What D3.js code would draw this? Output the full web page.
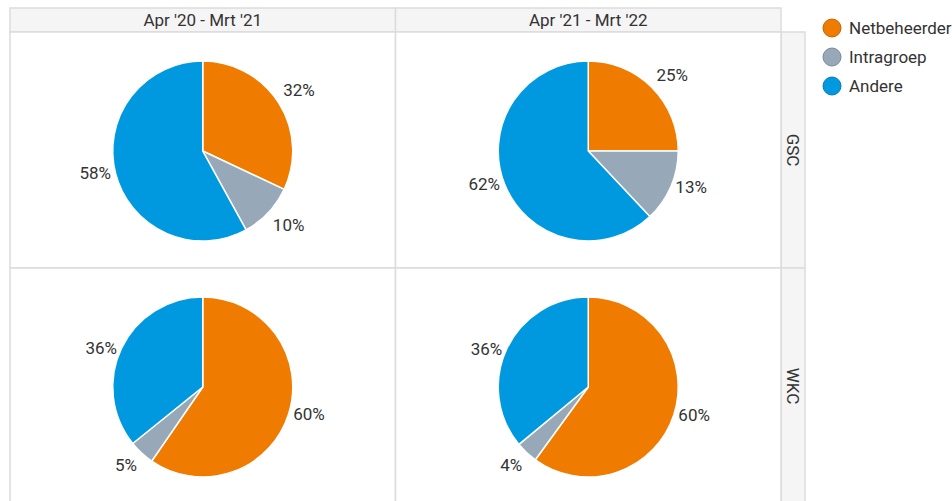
<!DOCTYPE html>
<html>
<head>
<meta charset="utf-8">
<script src="https://cdn.jsdelivr.net/npm/d3@7"></script>
<style>
  html, body { margin: 0; padding: 0; background: #fff; }
  svg { display: block; font-family: Roboto, "Noto Sans", sans-serif; }
</style>
</head>
<body>
<svg id="chart" width="952" height="501"></svg>
<script>
const categories = ["Netbeheerder", "Intragroep", "Andere"];
const columns = ["Apr '20 - Mrt '21", "Apr '21 - Mrt '22"];
const rows = ["GSC", "WKC"];
// values per panel [row][col], order = categories
const gsc2021 = [32, 10, 58];
const gsc2122 = [25, 13, 62];
const wkc2021 = [59.6, 4.6, 35.8];
const wkc2122 = [60, 4, 36];
const panelValues = [[gsc2021, gsc2122], [wkc2021, wkc2122]];
const colors = ["#ef7b00", "#97a9b8", "#0099e0"];

(function () {
const svg = d3.select("#chart");
const mLeft = 10, mTop = 8, stripH = 24, stripW = 24;
const fs = 17;
const colX = d3.scaleBand().domain(columns).range([mLeft, 781]).padding(0);
const rowY = d3.scaleBand().domain(rows).range([mTop + stripH, mTop + stripH + 472]).padding(0);
const color = d3.scaleOrdinal().domain(categories).range(colors);
const border = "#dcdcdc";
const textColor = "#333";

// column header strips
columns.forEach(c => {
  svg.append("rect").attr("x", colX(c)).attr("y", mTop).attr("width", colX.bandwidth()).attr("height", stripH)
    .attr("fill", "#f5f5f5").attr("stroke", border).attr("stroke-width", 1.5);
  svg.append("text").attr("x", colX(c) + colX.bandwidth() / 2).attr("y", mTop + stripH / 2)
    .attr("text-anchor", "middle").attr("dominant-baseline", "central")
    .attr("font-size", fs).attr("fill", textColor).text(c);
});
// row strips
rows.forEach(r => {
  svg.append("rect").attr("x", 781).attr("y", rowY(r)).attr("width", stripW).attr("height", rowY.bandwidth())
    .attr("fill", "#f5f5f5").attr("stroke", border).attr("stroke-width", 1.5);
  const cx = 781 + stripW / 2, cy = rowY(r) + rowY.bandwidth() / 2;
  svg.append("text").attr("transform", `translate(${cx},${cy}) rotate(90)`)
    .attr("text-anchor", "middle").attr("dominant-baseline", "central")
    .attr("font-size", fs).attr("fill", textColor).text(r);
});

const pie = d3.pie().sort(null).value(d => d.v);
const radius = 90;
const arc = d3.arc().innerRadius(0).outerRadius(radius);
const edgeArc = d3.arc().innerRadius(radius).outerRadius(radius);

rows.forEach((r, ri) => {
  columns.forEach((c, ci) => {
    svg.append("rect").attr("x", colX(c)).attr("y", rowY(r)).attr("width", colX.bandwidth()).attr("height", rowY.bandwidth())
      .attr("fill", "#fff").attr("stroke", border).attr("stroke-width", 1.5);
    const data = categories.map((k, i) => ({ k, v: panelValues[ri][ci][i] }));
    const total = d3.sum(data, d => d.v);
    const g = svg.append("g")
      .attr("transform", `translate(${colX(c) + colX.bandwidth() / 2},${rowY(r) + rowY.bandwidth() / 2 + 1})`);
    const arcs = pie(data);
    g.selectAll("path").data(arcs).join("path")
      .attr("d", arc).attr("fill", d => color(d.data.k))
      .attr("stroke", "#fff").attr("stroke-width", 1.5);
    g.selectAll("text").data(arcs).join("text")
      .attr("text-anchor", "middle").attr("dominant-baseline", "central")
      .attr("font-size", fs).attr("fill", textColor)
      .text(d => Math.round(d.data.v / total * 100) + "%")
      .each(function (d) {
        const a = (d.startAngle + d.endAngle) / 2;
        const [px, py] = edgeArc.centroid(d);
        const w = this.getComputedTextLength();
        const sx = Math.sin(a) >= 0 ? 1 : -1;
        const cy = Math.cos(a);
        const ox = sx * (w / 2 + 4.5);
        const oy = Math.abs(cy) > 0.5 ? -Math.sign(cy) * 12.5 : 0;
        d3.select(this).attr("x", px + ox).attr("y", py + oy);
      });
  });
});

// legend
const lg = svg.append("g").attr("transform", "translate(832,28)");
categories.forEach((k, i) => {
  const y = i * 29;
  lg.append("circle").attr("cx", 0).attr("cy", y).attr("r", 9)
    .attr("fill", color(k)).attr("stroke", d3.color(color(k)).darker(0.6)).attr("stroke-width", 1);
  lg.append("text").attr("x", 17).attr("y", y).attr("dominant-baseline", "central")
    .attr("font-size", fs).attr("fill", textColor).text(k);
});
})();
</script>
</body>
</html>
